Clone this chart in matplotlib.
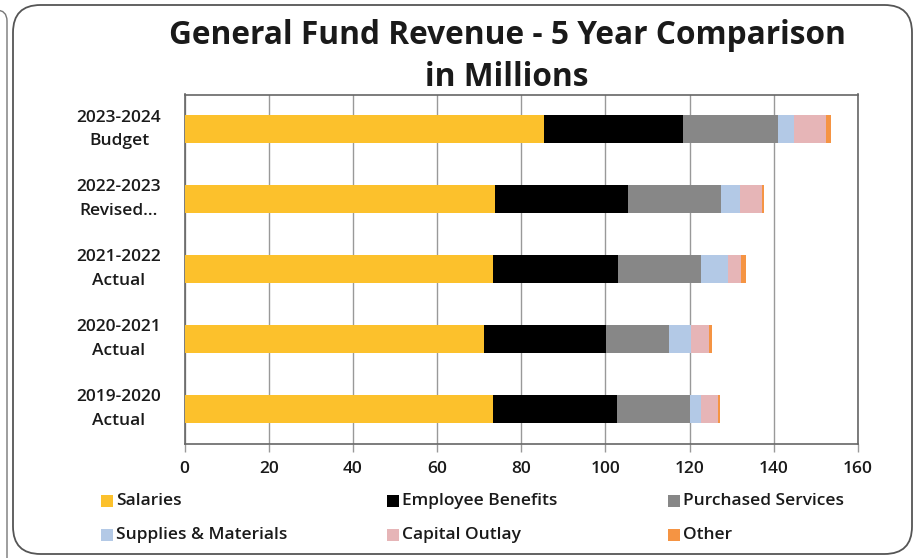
import matplotlib
matplotlib.use("Agg")
import matplotlib.pyplot as plt
from matplotlib.patches import FancyBboxPatch, Rectangle
import numpy as np

plt.rcParams['font.family'] = ['Open Sans', 'DejaVu Sans']

# Fiscal years, bottom to top
categories = ["2019-2020\nActual", "2020-2021\nActual", "2021-2022\nActual",
              "2022-2023\nRevised...", "2023-2024\nBudget"]

series_names = ["Salaries", "Employee Benefits", "Purchased Services",
                "Supplies & Materials", "Capital Outlay", "Other"]

# Amounts in millions, same order as categories
salaries = [73.3, 71.1, 73.3, 73.8, 85.4]
employee_benefits = [29.4, 29.1, 29.8, 31.6, 33.0]
purchased_services = [17.3, 14.8, 19.7, 22.0, 22.5]
supplies_materials = [2.8, 5.4, 6.3, 4.5, 3.9]
capital_outlay = [4.0, 4.2, 3.2, 5.2, 7.7]
other = [0.5, 0.8, 1.0, 0.6, 1.0]

x_ticks = [0, 20, 40, 60, 80, 100, 120, 140, 160]

colors = ["#FCC12C", "#000000", "#878787", "#B3C9E6", "#E6B5B7", "#F59443"]

TEXT = "#1a1a1a"
W, H = 917, 558
fig = plt.figure(figsize=(W / 100, H / 100), dpi=100)
fig.patch.set_facecolor("white")

# Panel borders
fig.patches.append(FancyBboxPatch((13 / W, 4 / H), (912 - 13) / W, (553 - 4) / H,
                                  boxstyle="round,pad=0,rounding_size=0.03",
                                  transform=fig.transFigure, fill=False,
                                  edgecolor="#555555", linewidth=1.3,
                                  mutation_aspect=W / H))
fig.patches.append(FancyBboxPatch((-60 / W, -20 / H), (67 / W), (568 / H),
                                  boxstyle="round,pad=0,rounding_size=0.012",
                                  transform=fig.transFigure, fill=False,
                                  edgecolor="#777777", linewidth=1.0,
                                  mutation_aspect=W / H))

ax = fig.add_axes([184.5 / W, 1 - 444 / H, (858 - 184.5) / W, (444 - 94.5) / H])

data = [salaries, employee_benefits, purchased_services,
        supplies_materials, capital_outlay, other]
y = np.arange(len(categories))
left = np.zeros(len(categories))
for name, vals, c in zip(series_names, data, colors):
    ax.barh(y, vals, left=left, height=0.4, color=c, label=name, zorder=3)
    left += np.array(vals)

ax.set_xlim(0, 160)
ax.set_ylim(-0.5, len(categories) - 0.5)
ax.set_xticks(x_ticks)
ax.set_xticklabels([str(t) for t in x_ticks], fontweight="semibold", color=TEXT)
ax.set_yticks(y)
ax.set_yticklabels(categories, fontsize=12.5, linespacing=1.65,
                   fontweight="semibold", color=TEXT)
ax.tick_params(axis="y", length=0, pad=0)
ax.tick_params(axis="x", length=6, width=1, color="#999999", labelsize=12.5, pad=6)
for lbl in ax.get_yticklabels():
    lbl.set_horizontalalignment("center")
    lbl.set_verticalalignment("center")
    lbl.set_x(-0.0973)
ax.xaxis.grid(True, color="#999999", linewidth=1, zorder=0)
for s in ax.spines.values():
    s.set_color("#666666")
    s.set_linewidth(1.2)

fig.text(507 / W, 1 - 35 / H, "General Fund Revenue - 5 Year Comparison",
         ha="center", va="center", fontsize=22.8, fontweight="bold", color=TEXT)
fig.text(507 / W, 1 - 77 / H, "in Millions",
         ha="center", va="center", fontsize=22.8, fontweight="bold", color=TEXT)

# Legend entries laid out in a 3x2 grid
col_x = [107, 393, 674]
row_y = [501, 535]
for i, (name, c) in enumerate(zip(series_names, colors)):
    cx = col_x[i % 3]
    cy = row_y[i // 3]
    fig.patches.append(Rectangle(((cx - 6) / W, 1 - (cy + 6) / H), 12 / W, 12 / H,
                                 transform=fig.transFigure, facecolor=c,
                                 edgecolor="none"))
    fig.text((cx + 9) / W, 1 - cy / H, name, ha="left", va="center",
             fontsize=12.5, fontweight="semibold", color=TEXT)

fig.savefig("out.png", dpi=100)
